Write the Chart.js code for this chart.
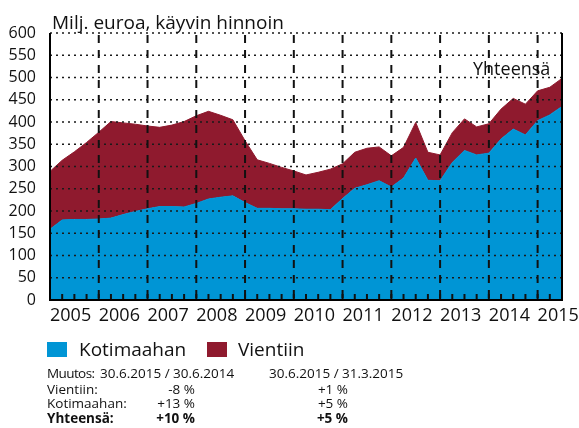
<!DOCTYPE html>
<html>
<head>
<meta charset="utf-8">
<script src="https://cdn.jsdelivr.net/npm/chart.js@4/dist/chart.umd.min.js"></script>
<style>
  html, body { margin: 0; padding: 0; background: #fff; overflow: hidden; }
  #wrap { position: relative; width: 579px; height: 428px; font-family: 'Open Sans', sans-serif; color: #111; }
  #c { position: absolute; left: 0; top: 0; }
  .t { position: absolute; white-space: nowrap; }
  .sq { position: absolute; width: 20px; height: 15px; }
  .r { text-align: right; }
  .tb { font-size: 13.5px; line-height: 15px; }
  .b { font-weight: bold; }
</style>
</head>
<body>
<div id="wrap">
  <canvas id="c" width="579" height="428"></canvas>
  <div class="t" style="left:52px;top:12px;font-size:19px;line-height:20px;">Milj. euroa, käyvin hinnoin</div>
  <div class="t" style="left:473px;top:58px;font-size:18px;line-height:20px;">Yhteensä</div>
  <div class="sq" style="left:47px;top:342px;background:#0095d5;"></div>
  <div class="t" style="left:79px;top:339px;font-size:19px;line-height:20px;">Kotimaahan</div>
  <div class="sq" style="left:207px;top:342px;background:#8f1a2e;"></div>
  <div class="t" style="left:238px;top:339px;font-size:19px;line-height:20px;">Vientiin</div>

  <div class="t tb" style="left:47px;top:366px;letter-spacing:-0.6px;">Muutos:</div>
  <div class="t tb" style="left:100px;top:366px;">30.6.2015 / 30.6.2014</div>
  <div class="t tb" style="left:269px;top:366px;">30.6.2015 / 31.3.2015</div>

  <div class="t tb" style="left:47px;top:382px;">Vientiin:</div>
  <div class="t tb r" style="left:100px;width:95px;top:382px;">-8 %</div>
  <div class="t tb r" style="left:269px;width:79px;top:382px;">+1 %</div>

  <div class="t tb" style="left:47px;top:396px;">Kotimaahan:</div>
  <div class="t tb r" style="left:100px;width:95px;top:396px;">+13 %</div>
  <div class="t tb r" style="left:269px;width:79px;top:396px;">+5 %</div>

  <div class="t tb b" style="left:47px;top:411px;">Yhteensä:</div>
  <div class="t tb r b" style="left:100px;width:95px;top:411px;">+10 %</div>
  <div class="t tb r b" style="left:269px;width:79px;top:411px;">+5 %</div>
</div>
<script>
const quarters = ['2004Q4',
  '2005Q1','2005Q2','2005Q3','2005Q4',
  '2006Q1','2006Q2','2006Q3','2006Q4',
  '2007Q1','2007Q2','2007Q3','2007Q4',
  '2008Q1','2008Q2','2008Q3','2008Q4',
  '2009Q1','2009Q2','2009Q3','2009Q4',
  '2010Q1','2010Q2','2010Q3','2010Q4',
  '2011Q1','2011Q2','2011Q3','2011Q4',
  '2012Q1','2012Q2','2012Q3','2012Q4',
  '2013Q1','2013Q2','2013Q3','2013Q4',
  '2014Q1','2014Q2','2014Q3','2014Q4',
  '2015Q1','2015Q2'];
const yearLabels = ['2005','2006','2007','2008','2009','2010','2011','2012','2013','2014','2015'];
const kotimaahan = [159,180,181,181,182,184,192,199,205,210,210,209,217,227,231,234,219,206,206,205,205,204,204,203,228,251,259,268,254,274,319,269,268,309,336,326,330,362,384,371,403,416,435];
const vientiin = [130,134,152,173,195,217,206,196,186,178,183,192,197,197,184,171,139,109,101,93,85,77,83,91,78,81,82,76,70,69,80,63,58,67,71,63,66,67,69,69,67,62,63];
const yTicks = [0,50,100,150,200,250,300,350,400,450,500,550,600];

const BLUE = '#0095d5', RED = '#8f1a2e';

const gridPlugin = {
  id: 'gridOver',
  afterDatasetsDraw(chart) {
    const {ctx, chartArea: {left, right, top, bottom}, scales: {x, y}} = chart;
    ctx.save();
    ctx.strokeStyle = '#1a1a1a';
    ctx.lineWidth = 1.5;
    ctx.setLineDash([2, 4]);
    yTicks.forEach(v => {
      if (v === 0) return;
      const py = y.getPixelForValue(v);
      ctx.beginPath(); ctx.moveTo(left, py); ctx.lineTo(right, py); ctx.stroke();
    });
    ctx.lineWidth = 2;
    ctx.strokeStyle = '#111';
    ctx.setLineDash([8, 7]);
    quarters.forEach((q, i) => {
      if (i === 0 || !q.endsWith('Q4')) return;
      const px = x.getPixelForValue(i);
      ctx.beginPath(); ctx.moveTo(px, top + 2); ctx.lineTo(px, bottom); ctx.stroke();
    });
    ctx.setLineDash([]);
    ctx.lineWidth = 2;
    quarters.forEach((q, i) => {
      const px = x.getPixelForValue(i);
      ctx.beginPath(); ctx.moveTo(px, bottom); ctx.lineTo(px, bottom - 6); ctx.stroke();
    });
    ctx.strokeStyle = '#000';
    ctx.beginPath();
    ctx.moveTo(left, top); ctx.lineTo(left, bottom); ctx.lineTo(right, bottom); ctx.lineTo(right, top);
    ctx.stroke();
    ctx.restore();
  }
};

new Chart(document.getElementById('c'), {
  type: 'line',
  data: {
    labels: quarters,
    datasets: [
      { label: 'Kotimaahan', data: kotimaahan, backgroundColor: BLUE, borderColor: BLUE, borderWidth: 1, pointRadius: 0, fill: 'origin', tension: 0 },
      { label: 'Vientiin', data: vientiin, backgroundColor: RED, borderColor: RED, borderWidth: 1, pointRadius: 0, fill: '-1', tension: 0 }
    ]
  },
  options: {
    responsive: false,
    animation: false,
    devicePixelRatio: 1,
    layout: { padding: { left: 0, right: 17, top: 33, bottom: 98 } },
    plugins: { legend: { display: false }, tooltip: { enabled: false } },
    scales: {
      x: {
        type: 'category',
        offset: false,
        grid: { display: false, drawTicks: false },
        border: { display: false },
        ticks: {
          autoSkip: false, maxRotation: 0, minRotation: 0, align: 'start',
          padding: 5, color: '#111',
          font: { family: "'Open Sans', sans-serif", size: 18 },
          callback: function(value, index) {
            const q = quarters[index];
            if (q.endsWith('Q4')) return yearLabels[Math.round(index / 4)];
            return '';
          }
        },
        afterFit(scale) { scale.height = 30; }
      },
      y: {
        stacked: true,
        min: 0, max: 600,
        grid: { display: false, drawTicks: false },
        border: { display: false },
        afterBuildTicks(scale) { scale.ticks = yTicks.map(v => ({ value: v })); },
        ticks: {
          padding: 14, color: '#111',
          font: { family: "'Open Sans', sans-serif", size: 16 }
        },
        afterFit(scale) { scale.width = 50; }
      }
    }
  },
  plugins: [gridPlugin]
});
</script>
</body>
</html>
